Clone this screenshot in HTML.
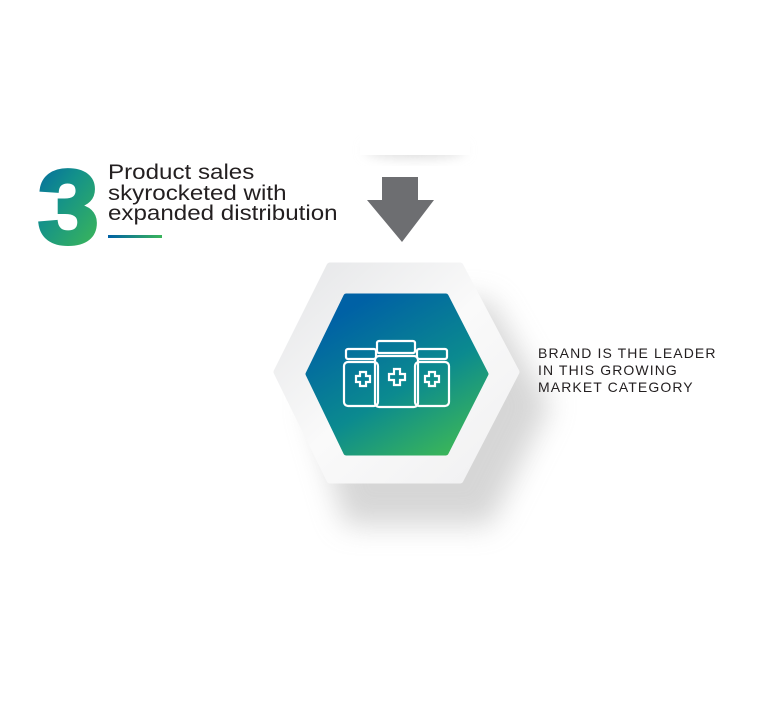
<!DOCTYPE html>
<html><head><style>
body{margin:0;width:764px;height:704px;background:#fff;position:relative;overflow:hidden;font-family:"Liberation Sans",sans-serif}
.t{position:absolute;color:#231f20;transform-origin:0 0;white-space:nowrap}
</style></head><body>
<svg width="764" height="704" style="position:absolute;left:0;top:0">
<defs>
<linearGradient id="g" x1="0.2" y1="0.1" x2="0.8" y2="1">
<stop offset="0" stop-color="#0061a5"/><stop offset="0.55" stop-color="#0b8a8f"/><stop offset="1" stop-color="#3ab55a"/></linearGradient>
<linearGradient id="g3" x1="0" y1="0" x2="0.7" y2="1">
<stop offset="0" stop-color="#0061a5"/><stop offset="0.45" stop-color="#13918a"/><stop offset="1" stop-color="#3ab55a"/></linearGradient>
<linearGradient id="gl" x1="0" y1="0" x2="1" y2="0"><stop offset="0" stop-color="#0061a5"/><stop offset="1" stop-color="#3ab55a"/></linearGradient>
<linearGradient id="ho" x1="0" y1="0" x2="1" y2="1"><stop offset="0" stop-color="#e4e5e7"/><stop offset="0.5" stop-color="#fafafa"/><stop offset="1" stop-color="#f0f0f1"/></linearGradient>
<filter id="sh" x="-50%" y="-50%" width="200%" height="200%"><feGaussianBlur stdDeviation="14"/></filter>
<filter id="sh2" x="-50%" y="-50%" width="200%" height="200%"><feGaussianBlur stdDeviation="6"/></filter>
</defs>
<ellipse cx="415" cy="150" rx="50" ry="8" fill="#ddd" filter="url(#sh2)"/>
<rect x="360" y="130" width="110" height="25" fill="#fff"/>
<polygon points="382,177 418,177 418,200 434,200 402,242 367,200 382,200" fill="#6d6e71"/>
<polygon points="345,300 490,300 550,405 490,525 345,525 310,405" fill="#bbb" opacity="0.6" filter="url(#sh)"/>
<polygon points="330,266 460,266 516,372 460,480 330,480 277,372" fill="url(#ho)" stroke="url(#ho)" stroke-width="7" stroke-linejoin="round"/>
<polygon points="346,296 446,296 486,374 446,453 346,453 308,374" fill="url(#g)" stroke="url(#g)" stroke-width="5" stroke-linejoin="round"/>
<g fill="none" stroke="#fff" stroke-width="2.2">
<rect x="346" y="349" width="30" height="10" rx="2"/>
<rect x="344" y="362" width="34" height="44" rx="4"/>
<rect x="417" y="349" width="30" height="10" rx="2"/>
<rect x="415" y="362" width="34" height="44" rx="4"/>
<rect x="377" y="341" width="38" height="12" rx="2"/>
<rect x="375" y="356" width="43" height="51" rx="4"/>
<path d="M356,376h4v-4h6v4h4v6h-4v4h-6v-4h-4z"/>
<path d="M425,376h4v-4h6v4h4v6h-4v4h-6v-4h-4z"/>
<path d="M389,374h5v-5h6v5h5v6h-5v5h-6v-5h-5z"/>
</g>
<text x="0" y="0" font-family="Liberation Sans" font-weight="bold" font-size="104" fill="url(#g3)" stroke="url(#g3)" stroke-width="4" transform="translate(38,243) scale(1.05,1)">3</text>
<rect x="108" y="235" width="54" height="3" fill="url(#gl)"/>
</svg>
<div class="t" style="left:108px;top:163px;font-size:21px;line-height:20.5px;transform:scaleX(1.15)">Product sales<br>skyrocketed with<br>expanded distribution</div>
<div class="t" style="left:538px;top:345px;font-size:14px;line-height:17px;letter-spacing:1.1px">BRAND IS THE LEADER<br>IN THIS GROWING<br>MARKET CATEGORY</div>
</body></html>
